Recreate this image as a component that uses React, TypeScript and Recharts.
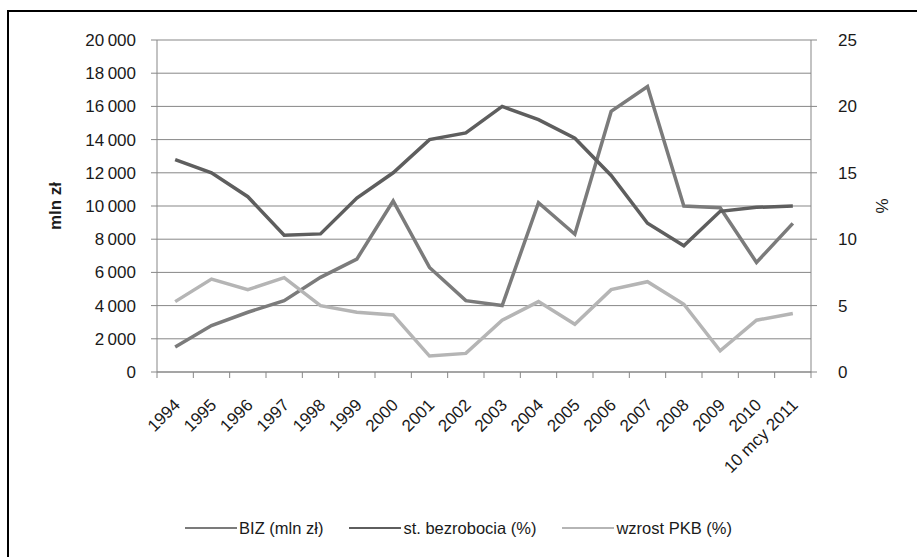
import { LineChart, Line, XAxis, YAxis, CartesianGrid, Legend } from 'recharts';

const years = [
  '1994', '1995', '1996', '1997', '1998', '1999', '2000', '2001', '2002',
  '2003', '2004', '2005', '2006', '2007', '2008', '2009', '2010', '10 mcy 2011',
];
// BIZ in mln zł (left axis)
const biz = [1500, 2800, 3600, 4300, 5700, 6800, 10300, 6300, 4300, 4000, 10200, 8300, 15700, 17200, 10000, 9900, 6600, 8950];
// stopa bezrobocia in % (right axis)
const bezrobocie = [16.0, 15.0, 13.2, 10.3, 10.4, 13.1, 15.0, 17.5, 18.0, 20.0, 19.0, 17.6, 14.8, 11.2, 9.5, 12.1, 12.4, 12.5];
// wzrost PKB in % (right axis)
const pkb = [5.3, 7.0, 6.2, 7.1, 5.0, 4.5, 4.3, 1.2, 1.4, 3.9, 5.3, 3.6, 6.2, 6.8, 5.1, 1.6, 3.9, 4.4];
const leftTicks = [0, 2000, 4000, 6000, 8000, 10000, 12000, 14000, 16000, 18000, 20000];
const rightTicks = [0, 5, 10, 15, 20, 25];

const W = 917;
const H = 557;
const MARGIN = { top: 40, right: 46, left: 57, bottom: 18 };
const LEFT_AXIS_W = 100;
const RIGHT_AXIS_W = 60;
const PLOT_W = W - MARGIN.left - MARGIN.right - LEFT_AXIS_W - RIGHT_AXIS_W;
const BAND = PLOT_W / years.length;

const FONT = '"Liberation Sans", Arial, sans-serif';
const AXIS = '#878787';
const TEXT = '#1a1a1a';
const C_BIZ = '#7b7b7b';
const C_BEZ = '#5e5e5e';
const C_PKB = '#b5b5b5';

const chartData = years.map((y, i) => ({
  year: y,
  biz: biz[i],
  bez: bezrobocie[i],
  pkb: pkb[i],
}));

const fmtThousands = (v: number) =>
  String(v).replace(/\B(?=(\d{3})+(?!\d))/g, '\u2009');

// Excel-style category ticks: marks sit between categories, labels at -45°
function YearTick(props: any) {
  const { x, y, payload, index } = props;
  const axisY = y - 6;
  const tx = x + 6;
  const ty = axisY + 34;
  return (
    <g>
      <line x1={x - BAND / 2} x2={x - BAND / 2} y1={axisY} y2={axisY + 6} stroke={AXIS} />
      {index === years.length - 1 && (
        <line x1={x + BAND / 2} x2={x + BAND / 2} y1={axisY} y2={axisY + 6} stroke={AXIS} />
      )}
      <text
        x={tx}
        y={ty}
        textAnchor="end"
        fontSize={17}
        fontFamily={FONT}
        fill={TEXT}
        transform={`rotate(-45, ${tx}, ${ty})`}
      >
        {payload.value}
      </text>
    </g>
  );
}

function AxisTitle(props: any) {
  const { viewBox, text, cx, bold } = props;
  const cy = viewBox.y + viewBox.height / 2;
  return (
    <text
      x={cx}
      y={cy}
      textAnchor="middle"
      dominantBaseline="central"
      fontSize={17}
      fontWeight={bold ? 'bold' : 'normal'}
      fontFamily={FONT}
      fill={TEXT}
      transform={`rotate(-90, ${cx}, ${cy})`}
    >
      {text}
    </text>
  );
}

function LegendContent(props: any) {
  const { payload } = props;
  return (
    <div
      style={{
        display: 'flex',
        justifyContent: 'center',
        alignItems: 'center',
        gap: 26,
        height: 22,
        fontFamily: FONT,
        fontSize: 16.5,
        color: TEXT,
      }}
    >
      {(payload || []).map((p: any) => (
        <div key={p.value} style={{ display: 'flex', alignItems: 'center' }}>
          <svg width={52} height={6}>
            <line x1={0} x2={52} y1={3} y2={3} stroke={p.color} strokeWidth={2} />
          </svg>
          <span style={{ marginLeft: 2 }}>{p.value}</span>
        </div>
      ))}
    </div>
  );
}

export default function App() {
  return (
    <div style={{ position: 'absolute', left: 0, top: 0, width: W, height: H, background: '#fff', overflow: 'hidden' }}>
      <div
        style={{
          position: 'absolute',
          left: 7,
          top: 10,
          width: W,
          height: H,
          borderTop: '2px solid #000',
          borderLeft: '2px solid #000',
        }}
      />
      <LineChart width={W} height={H} data={chartData} margin={MARGIN}>
        <CartesianGrid yAxisId="left" vertical={false} stroke={AXIS} />
        <XAxis
          dataKey="year"
          interval={0}
          padding={{ left: BAND / 2, right: BAND / 2 }}
          height={H - MARGIN.top - MARGIN.bottom - 22 - 332}
          tickSize={6}
          tickMargin={0}
          tickLine={false}
          axisLine={{ stroke: AXIS }}
          tick={<YearTick />}
        />
        <YAxis
          yAxisId="left"
          width={LEFT_AXIS_W}
          domain={[0, 20000]}
          ticks={leftTicks}
          interval={0}
          tickFormatter={fmtThousands}
          tickSize={6}
          tickMargin={15}
          axisLine={{ stroke: AXIS }}
          tickLine={{ stroke: AXIS }}
          tick={{ fontSize: 17, fontFamily: FONT, fill: TEXT }}
          label={<AxisTitle text="mln zł" cx={55} bold />}
        />
        <YAxis
          yAxisId="right"
          orientation="right"
          width={RIGHT_AXIS_W}
          domain={[0, 25]}
          ticks={rightTicks}
          interval={0}
          tickSize={6}
          tickMargin={21}
          axisLine={{ stroke: AXIS }}
          tickLine={{ stroke: AXIS }}
          tick={{ fontSize: 17, fontFamily: FONT, fill: TEXT }}
          label={<AxisTitle text="%" cx={882} />}
        />
        <Legend
          verticalAlign="bottom"
          content={<LegendContent />}
          wrapperStyle={{ left: 0, width: W }}
        />
        <Line yAxisId="left" name="BIZ (mln zł)" dataKey="biz" stroke={C_BIZ} strokeWidth={3.5} dot={false} type="linear" isAnimationActive={false} />
        <Line yAxisId="right" name="st. bezrobocia (%)" dataKey="bez" stroke={C_BEZ} strokeWidth={3.5} dot={false} type="linear" isAnimationActive={false} />
        <Line yAxisId="right" name="wzrost PKB (%)" dataKey="pkb" stroke={C_PKB} strokeWidth={3.5} dot={false} type="linear" isAnimationActive={false} />
      </LineChart>
    </div>
  );
}
